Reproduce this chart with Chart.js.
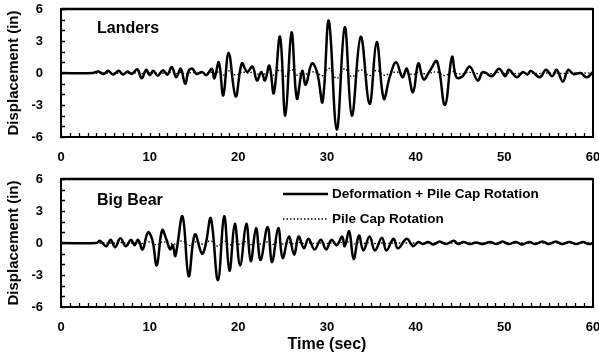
<!DOCTYPE html>
<html>
<head>
<meta charset="utf-8">
<script src="https://cdn.jsdelivr.net/npm/chart.js@4.4.1/dist/chart.umd.min.js"></script>
<style>
  html, body { margin: 0; padding: 0; background: #fff; }
  #wrap { position: relative; width: 599px; height: 357px; }
  .panel { position: absolute; left: 0; width: 599px; }
</style>
</head>
<body>
<div id="wrap">
  <div class="panel" style="top:0;height:170px"><canvas id="landersChart" width="599" height="170"></canvas></div>
  <div class="panel" style="top:170px;height:187px"><canvas id="bigBearChart" width="599" height="187"></canvas></div>
</div>
<script>
// time (sec) of each turning point
const landersTime = [
    0, 3.6, 4.2, 4.8, 5.3, 5.9, 6.5, 7.0, 7.5, 8.0,
    8.6, 9.1, 9.6, 10.0, 10.4, 10.9, 11.5, 12.0, 12.5, 13.0,
    13.5, 14.0, 14.4, 14.8, 15.3, 15.9, 16.4, 17.0, 17.3, 17.8,
    18.3, 18.9, 19.7, 20.4, 21.0, 21.6, 22.1, 22.6, 23.0, 23.5,
    24.0, 24.7, 25.3, 26.0, 26.6, 27.2, 27.6, 28.3, 28.9, 29.5,
    30.2, 31.1, 32.0, 32.8, 33.8, 34.8, 35.6, 36.4, 37.1, 37.8,
    38.5, 39.0, 39.7, 40.3, 40.9, 41.6, 42.4, 43.3, 44.1, 44.6,
    45.3, 46.1, 47.0, 47.6, 48.6, 49.4, 50.1, 50.5, 51.4, 52.1,
    52.6, 53.0, 54.0, 54.7, 55.4, 55.9, 56.6, 57.2, 57.8, 58.6,
    59.3, 60
];
// displacement (in), deformation + pile cap rotation
const landersTotal = [
    0, 0, 0.15, -0.1, 0.2, -0.15, 0.2, -0.15, 0.15, -0.1,
    0.35, -0.5, 0.3, -0.2, 0.2, -0.25, 0.25, -0.15, 0.55, -0.4,
    0.4, -1.0, 0.2, 0.4, -0.1, 0.1, -0.2, 0.4, -0.5, 1.0,
    -2.1, 1.9, -2.2, 0.9, 0.1, 0.6, -0.7, 0.1, -0.7, 0.7,
    -1.9, 3.4, -4.0, 3.8, -2.4, 0.2, -1.1, 0.9, 0.0, -2.7,
    4.9, -5.3, 4.3, -4.0, 3.4, -2.9, 2.9, -2.4, -0.3, 1.0,
    -0.4, 0.4, -1.8, 0.9, -0.6, 0.2, 1.1, -3.0, 1.5, -0.4,
    -0.3, 0.6, -0.7, 0.1, -0.3, 0.4, -0.3, 0.3, -0.4, 0.1,
    -0.15, 0.2, -0.4, 0.3, -0.3, 0.3, -0.8, 0.3, -0.1, 0.0,
    -0.4, 0.1
];
// displacement (in), pile cap rotation only
const landersCap = [
    0, 0, 0, 0, 0, 0, 0, 0, 0, 0,
    0, -0.05, 0.05, 0, 0, 0, 0, 0, 0.05, -0.05,
    0.05, -0.1, 0, 0.05, 0, 0, 0, 0.05, -0.05, 0.1,
    -0.2, 0.2, -0.2, 0.1, 0, 0.05, -0.1, 0, -0.1, 0.1,
    -0.2, 0.3, -0.3, 0.35, -0.2, 0.05, -0.1, 0.1, 0, -0.25,
    0.45, -0.5, 0.4, -0.35, 0.3, -0.25, 0.25, -0.2, -0.05, 0.1,
    -0.05, 0.05, -0.15, 0.1, -0.05, 0, 0.1, -0.25, 0.15, -0.05,
    -0.05, 0.05, -0.05, 0, -0.05, 0.05, -0.05, 0, -0.05, 0,
    0, 0, -0.05, 0, 0, 0, -0.05, 0, 0, 0,
    0, 0
];

const bigBearTime = [
    0, 4.0, 4.4, 5.1, 5.6, 6.1, 6.7, 7.3, 7.9, 8.3,
    8.7, 9.2, 9.8, 10.3, 10.8, 11.4, 11.9, 12.3, 12.6, 12.9,
    13.7, 14.4, 15.1, 15.9, 16.3, 16.9, 17.7, 18.4, 19.0, 19.6,
    20.2, 20.9, 21.4, 22.0, 22.5, 23.3, 23.8, 24.5, 25.0, 25.7,
    26.3, 26.8, 27.4, 27.9, 28.6, 29.3, 29.9, 30.5, 31.1, 31.7,
    32.0, 32.5, 33.0, 33.6, 34.1, 34.8, 35.4, 36.2, 36.7, 37.5,
    38.0, 39.0, 39.7, 40.3, 40.8, 41.4, 42.0, 42.7, 43.4, 44.3,
    44.8, 45.4, 46.1, 46.8, 47.6, 48.4, 49.1, 49.8, 50.5, 51.3,
    52.0, 52.8, 53.5, 54.3, 55.0, 55.8, 56.5, 57.3, 58.1, 58.9,
    59.5, 60
];
const bigBearTotal = [
    0, 0, 0.2, -0.3, 0.3, -0.4, 0.45, -0.3, 0.3, -0.2,
    0.3, -0.6, 1.0, 0.3, -2.1, 1.2, 0.3, -0.6, -0.2, -1.2,
    2.5, -3.1, 0.8, -1.0, -0.2, 2.3, -3.5, 2.5, -2.6, 1.8,
    -2.1, 1.8, -1.7, 1.4, -1.6, 1.5, -1.8, 1.4, -1.4, 0.6,
    -1.1, 0.6, -0.5, 0.4, -0.6, 0.3, -0.6, 0.3, -0.2, 0.6,
    -0.3, 1.1, -1.5, 0.7, -0.7, 0.6, -0.7, 0.5, -0.7, 0.4,
    -0.5, 0.4, -0.3, 0.1, -0.1, 0.1, -0.15, 0.15, -0.1, 0.2,
    -0.1, 0.1, -0.1, 0.05, -0.1, 0.1, -0.1, 0.15, -0.1, 0.1,
    -0.15, 0.1, -0.1, 0.15, -0.1, 0.15, -0.1, 0.1, -0.1, 0.1,
    -0.1, 0
];
const bigBearCap = [
    0, 0, 0, 0, 0, 0, 0.05, 0, 0, 0,
    0, -0.05, 0.1, 0.05, -0.2, 0.1, 0.05, -0.05, 0, -0.1,
    0.2, -0.25, 0.1, -0.1, 0, 0.2, -0.3, 0.2, -0.2, 0.15,
    -0.15, 0.15, -0.15, 0.1, -0.1, 0.1, -0.15, 0.1, -0.1, 0.05,
    -0.1, 0.05, -0.05, 0, -0.05, 0, -0.05, 0, 0, 0.05,
    0, 0.1, -0.1, 0.05, -0.05, 0.05, -0.05, 0, -0.05, 0,
    0, 0, 0, 0, 0, 0, 0, 0, 0, 0,
    0, 0, 0, 0, 0, 0, 0, 0, 0, 0,
    0, 0, 0, 0, 0, 0, 0, 0, 0, 0,
    0, 0
];

const FONT = "'Liberation Sans', Arial, Helvetica, sans-serif";

function toPoints(xs, ys) {
    return xs.map((x, i) => ({ x: x, y: ys[i] }));
}

// box around the plot, inward tick marks, panel name and legend
const framePlugin = {
    id: 'frame',
    afterDraw(chart, args, opts) {
        const ctx = chart.ctx;
        const a = chart.chartArea;
        const xs = chart.scales.x, ys = chart.scales.y;
        ctx.save();
        ctx.strokeStyle = '#000';
        ctx.lineWidth = 1.3;
        ctx.beginPath();
        xs.ticks.forEach(t => {
            const px = Math.round(xs.getPixelForValue(t.value)) + 0.5;
            ctx.moveTo(px, a.bottom);
            ctx.lineTo(px, a.bottom - 4);
        });
        ys.ticks.forEach(t => {
            const py = Math.round(ys.getPixelForValue(t.value)) + 0.5;
            ctx.moveTo(a.left, py);
            ctx.lineTo(a.left + 4, py);
        });
        ctx.stroke();
        ctx.lineWidth = 2;
        ctx.strokeRect(a.left, a.top, a.right - a.left, a.bottom - a.top);
        ctx.lineWidth = 2.5;
        ctx.beginPath();
        ctx.moveTo(a.left, a.top);
        ctx.lineTo(a.right, a.top);
        ctx.stroke();

        ctx.fillStyle = '#000';
        ctx.textBaseline = 'middle';
        ctx.font = 'bold 16px ' + FONT;
        ctx.fillText(opts.name, a.left + 36, a.top + opts.nameDy);

        if (opts.legend) {
            const ds = chart.data.datasets;
            ctx.font = 'bold 13.5px ' + FONT;
            const x0 = a.left + 222, x1 = a.left + 267;
            const rows = [a.top + 15, a.top + 40];
            ds.forEach((d, i) => {
                ctx.beginPath();
                ctx.lineWidth = d.borderWidth;
                ctx.setLineDash(d.borderDash || []);
                ctx.moveTo(x0, rows[i]);
                ctx.lineTo(x1, rows[i]);
                ctx.stroke();
                ctx.setLineDash([]);
                ctx.fillText(d.label, x1 + 4, rows[i]);
            });
        }
        ctx.restore();
    }
};

function makePanel(id, time, total, cap, name, nameDy, withLegend, withTitle) {
    return new Chart(document.getElementById(id), {
        type: 'line',
        data: {
            datasets: [
                {
                    label: 'Deformation + Pile Cap Rotation',
                    data: toPoints(time, total),
                    borderColor: '#000',
                    borderWidth: 2.5,
                    pointRadius: 0,
                    tension: 0.4
                },
                {
                    label: 'Pile Cap Rotation',
                    data: toPoints(time, cap),
                    borderColor: '#000',
                    borderWidth: 1.3,
                    borderDash: [1.5, 2],
                    pointRadius: 0,
                    tension: 0.4
                }
            ]
        },
        options: {
            responsive: false,
            animation: false,
            devicePixelRatio: 1,
            layout: { padding: { top: 9, right: 6, left: 0, bottom: 0 } },
            plugins: {
                legend: { display: false },
                tooltip: { enabled: false },
                frame: { name: name, nameDy: nameDy, legend: withLegend }
            },
            scales: {
                x: {
                    type: 'linear',
                    min: 0,
                    max: 60,
                    grid: { display: false },
                    border: { display: false },
                    ticks: {
                        stepSize: 1,
                        autoSkip: false,
                        maxRotation: 0,
                        padding: 5,
                        color: '#000',
                        font: { family: FONT, size: 13, weight: 'bold' },
                        callback: v => (v % 10 === 0 ? v : '')
                    },
                    title: {
                        display: withTitle,
                        text: 'Time (sec)',
                        color: '#000',
                        font: { family: FONT, size: 16, weight: 'bold' },
                        padding: { top: 0, bottom: 3 }
                    },
                    afterFit(s) {
                        s.height = withTitle ? 50 : 33;
                        s.paddingLeft = 0;
                        s.paddingRight = 0;
                    }
                },
                y: {
                    min: -6,
                    max: 6,
                    grid: { display: false },
                    border: { display: false },
                    ticks: {
                        stepSize: 1,
                        autoSkip: false,
                        padding: 10,
                        color: '#000',
                        font: { family: FONT, size: 13, weight: 'bold' },
                        callback: v => (v % 3 === 0 ? v : '')
                    },
                    title: {
                        display: true,
                        text: 'Displacement (in)',
                        color: '#000',
                        font: { family: FONT, size: 15, weight: 'bold' },
                        padding: { top: 5, bottom: 0 }
                    },
                    afterFit(s) {
                        s.width = 61;
                        s.paddingTop = 0;
                        s.paddingBottom = 0;
                    }
                }
            }
        },
        plugins: [framePlugin]
    });
}

makePanel('landersChart', landersTime, landersTotal, landersCap, 'Landers', 20, false, false);
makePanel('bigBearChart', bigBearTime, bigBearTotal, bigBearCap, 'Big Bear', 22, true, true);
</script>
</body>
</html>
